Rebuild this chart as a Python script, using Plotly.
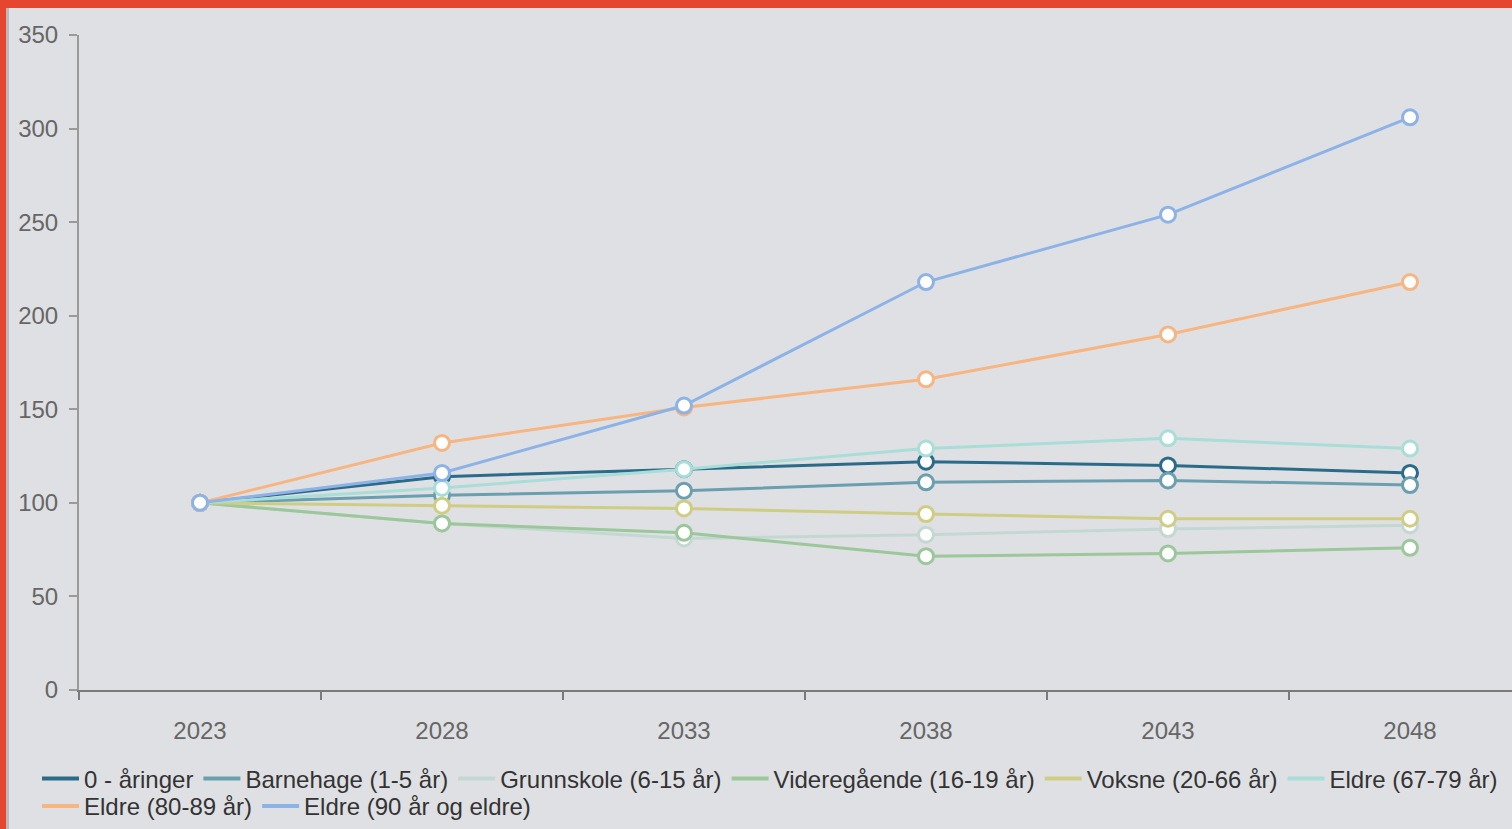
import plotly.graph_objects as go

years = ["2023", "2028", "2033", "2038", "2043", "2048"]

series_names = [
    "0 - åringer",
    "Barnehage (1-5 år)",
    "Grunnskole (6-15 år)",
    "Videregående (16-19 år)",
    "Voksne (20-66 år)",
    "Eldre (67-79 år)",
    "Eldre (80-89 år)",
    "Eldre (90 år og eldre)",
]

aringer_0 = [100, 114, 118, 122, 120, 116]
barnehage = [100, 104, 106.5, 111, 112, 109.5]
grunnskole = [100, 89, 81, 83, 86, 88]
videregaende = [100, 89, 84, 71.5, 73, 76]
voksne = [100, 98.5, 97, 94, 91.5, 91.5]
eldre_67_79 = [100, 108, 118, 129, 134.5, 129]
eldre_80_89 = [100, 132, 151, 166, 190, 218]
eldre_90 = [100, 116, 152, 218, 254, 306]

series_values = [aringer_0, barnehage, grunnskole, videregaende, voksne,
                 eldre_67_79, eldre_80_89, eldre_90]

colors = ["#2b6b8a", "#6a9fb0", "#c3d8d3", "#9cc79a", "#cfcd84",
          "#a8ddd8", "#f6b581", "#8db3e6"]

legend_rows = ["legend", "legend", "legend", "legend", "legend", "legend", "legend2", "legend2"]

y_ticks = [0, 50, 100, 150, 200, 250, 300, 350]

W, H = 1512, 829
L, R, T, B = 79, 0, 35, 139
pw, ph = W - L - R, H - T - B

def px_x(p):
    return (p - L) / pw

def px_y(p):
    return (H - B - p) / ph

fig = go.Figure()
for name, vals, col in zip(series_names, series_values, colors):
    fig.add_trace(go.Scatter(
        x=years, y=vals, name=name, mode="lines+markers", showlegend=False,
        line=dict(color=col, width=3),
        marker=dict(size=15, color="white", line=dict(color=col, width=3)),
    ))

# legend-only entries (line swatches, no marker)
for name, col, lg in zip(series_names, colors, legend_rows):
    fig.add_trace(go.Scatter(
        x=[None], y=[None], name=name, mode="lines", legend=lg,
        line=dict(color=col, width=4), showlegend=True, hoverinfo="skip",
    ))

bg = "#dfe0e3"
red = "#e5462f"
shapes = [
    dict(type="rect", xref="paper", yref="paper", x0=px_x(0), x1=px_x(W), y0=px_y(0), y1=px_y(8),
         fillcolor=red, line=dict(width=0), layer="above"),
    dict(type="rect", xref="paper", yref="paper", x0=px_x(0), x1=px_x(6), y0=px_y(0), y1=px_y(H),
         fillcolor=red, line=dict(width=0), layer="above"),
    dict(type="rect", xref="paper", yref="paper", x0=px_x(6), x1=px_x(9), y0=px_y(8), y1=px_y(H),
         fillcolor="#b9babd", line=dict(width=0), layer="above"),
]

legend_font = dict(size=24, color="#333333", family="Liberation Sans, Arial, sans-serif")

fig.update_layout(
    width=W, height=H,
    margin=dict(l=L, r=R, t=T, b=B, pad=0),
    paper_bgcolor=bg, plot_bgcolor=bg,
    font=dict(family="Liberation Sans, Arial, sans-serif", size=24, color="#666666"),
    showlegend=True,
    legend=dict(
        orientation="h", x=px_x(37), xanchor="left", y=px_y(779), yanchor="middle",
        font=legend_font, bgcolor="rgba(0,0,0,0)", borderwidth=0, itemwidth=37,
    ),
    legend2=dict(
        orientation="h", x=px_x(37), xanchor="left", y=px_y(807), yanchor="middle",
        font=legend_font, bgcolor="rgba(0,0,0,0)", borderwidth=0, itemwidth=37,
    ),
    shapes=shapes,
    xaxis=dict(
        type="category", range=[-0.5, -0.5 + pw / 242.0],
        showline=True, linecolor="#7a7a7a", linewidth=2,
        ticks="outside", tickson="boundaries", ticklen=8, tickwidth=2, tickcolor="#7a7a7a",
        showgrid=False, zeroline=False,
        ticklabelstandoff=18,
        tickfont=dict(size=24, color="#666666"),
    ),
    yaxis=dict(
        range=[0, 350], tickvals=y_ticks,
        showline=True, linecolor="#9a9a9a", linewidth=2,
        ticks="outside", ticklen=8, tickwidth=2, tickcolor="#9a9a9a",
        showgrid=False, zeroline=False,
        ticklabelstandoff=6,
        tickfont=dict(size=24, color="#666666"),
    ),
)

fig.write_html("out.html", config={"displayModeBar": False},
               post_script="document.body.style.margin='0';")
